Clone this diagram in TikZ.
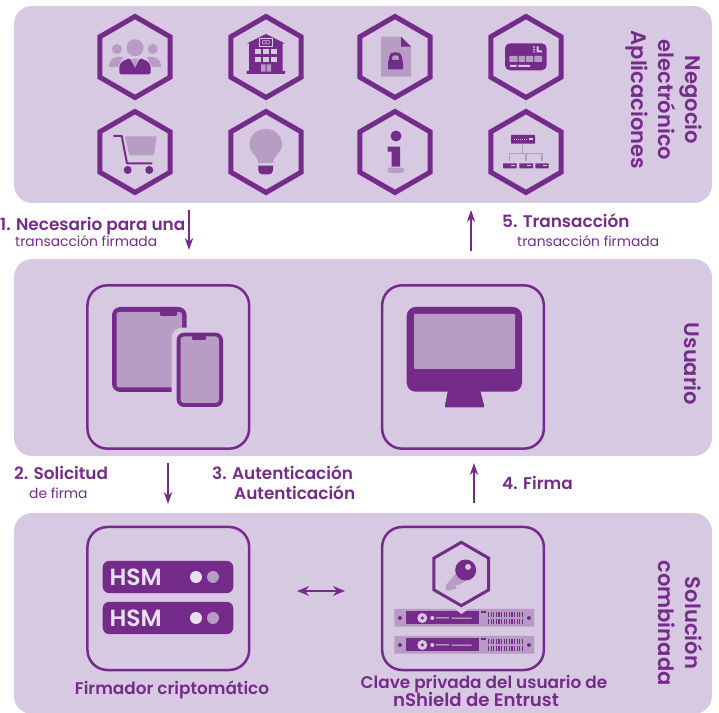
\documentclass[tikz,border=0pt]{standalone}
\usepackage{fontspec}
\setmainfont{Poppins}[BoldFont={Poppins SemiBold}]
\usetikzlibrary{shapes.geometric, arrows, arrows.meta}
\definecolor{morado}{HTML}{752B8A}
\definecolor{lila}{HTML}{D7C9E1}
\definecolor{malva}{HTML}{B79CC4}
\definecolor{claro}{HTML}{E8E0EE}
\tikzstyle{arrow} = [line width=.6mm,->,>={Stealth[length=.36cm,width=.25cm]},draw=morado]
\tikzstyle{doubleArrow} = [line width=.5mm,<->,>={Stealth[length=.36cm,width=.29cm]},draw=morado]
\tikzstyle{panel} = [rectangle, rounded corners=.55cm, minimum width=20.94cm, minimum height=5.91cm, fill=lila]
\tikzstyle{hexa} = [regular polygon, regular polygon sides=6, shape border rotate=30, minimum size=2.43cm, inner sep=0pt, line width=1.5mm, draw=morado]
\tikzstyle{roundRec} = [rectangle, rounded corners=.6cm, minimum width=4.85cm, line width=.75mm, draw=morado]
\tikzstyle{hsmBar} = [rectangle, rounded corners=.2cm, minimum width=3.92cm, minimum height=.97cm, fill=morado, text=claro, font=\bfseries\fontsize{20}{20}\selectfont, text width=3.5cm, align=left]
\tikzstyle{stepTitle} = [anchor=base west, inner sep=0pt, text=morado, font=\bfseries\fontsize{14.4}{17}\selectfont]
\tikzstyle{stepSub} = [anchor=base west, inner sep=0pt, text=morado, font=\fontsize{11.8}{14}\selectfont]
\tikzstyle{sideLabel} = [rotate=-90, align=center, text=morado, inner sep=0pt, font=\bfseries\fontsize{18}{23}\selectfont]

\begin{document}
\begin{tikzpicture}[x=.03cm, y=-.03cm, node distance=7.59cm]
	\clip (0,0) rectangle (719,713);
	% paneles
	\node (negocio) [panel] at (363,104.5) {};
	\node (usuario) [panel, below of=negocio] {};
	\node (combinada) [panel, below of=usuario, yshift=-.09cm, minimum height=6.03cm] {};
	\node (negocioTxt) [sideLabel] at (664,100) {Negocio\\electrónico\\Aplicaciones};
	\node (usuarioTxt) [sideLabel] at (693,364) {Usuario};
	\node (combinadaTxt) [sideLabel] at (681,623) {Solución\\combinada};
	% hexagonos
	\node (hexPersonas) [hexa] at (135,57) {};
	\node (hexBanco) [hexa] at (266,57) {};
	\node (hexDoc) [hexa] at (395,57) {};
	\node (hexTarjeta) [hexa] at (526,57) {};
	\node (hexCarro) [hexa] at (135,152) {};
	\node (hexBombilla) [hexa] at (266,152) {};
	\node (hexInfo) [hexa] at (395,152) {};
	\node (hexRed) [hexa] at (526,152) {};
	% personas
	\fill [malva] (117,49) circle (5) (152.7,49) circle (5) (135,47.7) circle (8.5);
	\fill [malva] (109,67) .. controls (109,58) and (115,56) .. (123,57) -- (118,67) -- cycle;
	\fill [malva] (161,67) .. controls (161,58) and (155,56) .. (147,57) -- (152,67) -- cycle;
	\fill [morado, rounded corners=1.5] (119.3,74.5) -- (119.3,68) .. controls (120,62) and (125,60) .. (130,58) -- (135,68) -- (140,58) .. controls (145,60) and (150,62) .. (150.7,68) -- (150.7,74.5) -- cycle;
	\fill [malva] (132,59) -- (138,59) -- (135,68) -- cycle;
	% banco
	\fill [morado] (246.7,43.5) -- (266,34) -- (285,43.5) -- (282.7,43.5) -- (282.7,71) -- (285,71) -- (285,74) -- (246.7,74) -- (246.7,71) -- (249,71) -- (249,43.5) -- cycle;
	\draw [lila, line width=.2mm] (259.5,38.5) rectangle (272.5,46);
	\draw [lila, line width=.15mm] (264.3,42.2) circle (2) (267.7,42.2) circle (2);
	\foreach \wx in {255,263,271} \foreach \wy in {48.7,56.7} \fill [lila] (\wx,\wy) rectangle +(6,5.6);
	\fill [malva] (261,64.3) rectangle (265.5,71.7) (266.5,64.3) rectangle (271,71.7);
	% documento
	\fill [malva, rounded corners=.8] (381,36.7) -- (401,36.7) -- (411,46.7) -- (411,76.7) -- (381,76.7) -- cycle;
	\fill [morado] (401,36.7) -- (411,46.7) -- (401,46.7) -- cycle;
	\draw [morado, line width=.9mm] (390.5,61) -- (390.5,57) .. controls (390.5,52.6) and (400.5,52.6) .. (400.5,57) -- (400.5,61);
	\fill [morado, rounded corners=1] (388,60) rectangle (403,69.5);
	% tarjeta
	\fill [morado, rounded corners=1.5mm] (505,43.3) rectangle (546.7,70.3);
	\fill [malva, rounded corners=.5] (509.3,56) rectangle (517.7,62) (518.7,56) rectangle (525,62) (526,56) rectangle (533.3,62) (534.3,56) rectangle (542,62);
	\fill [lila] (510,65) rectangle (516.5,67) (518.3,65) rectangle (530,67);
	\fill [lila] (536.7,46.5) rectangle (538.7,52.5) (538.7,50.5) rectangle (542,52.5);
	\fill [lila] (533,46.5) rectangle (535,47.7) (533,49) rectangle (535,50.2) (533,51.3) rectangle (535,52.5);
	% carrito
	\fill [malva, rounded corners=.5] (125,136.3) -- (156.7,136.3) -- (154,155.3) -- (129.3,155.3) -- cycle;
	\draw [morado, line width=.6mm, line cap=round, line join=round] (114,136) -- (121.7,136) -- (127,163.3) -- (151.7,163.3);
	\fill [morado] (127.7,170) circle (4) (149.3,170) circle (4);
	% bombilla
	\fill [malva] (258.5,163) .. controls (257,154) and (249.5,153) .. (249.5,145) .. controls (249.5,135) and (257,129) .. (265.7,129) .. controls (274.5,129) and (282,135) .. (282,145) .. controls (282,153) and (274.5,154) .. (273,163) -- cycle;
	\fill [morado] (258.3,165.7) -- (273,165.7) -- (273,170) .. controls (273,173) and (271,174.3) .. (269,174.3) -- (262.5,174.3) .. controls (260,174.3) and (258.3,173) .. (258.3,170) -- cycle;
	% info
	\fill [morado] (396,136) circle (5.5);
	\fill [morado] (387.7,146.7) -- (400,146.7) -- (400,166.7) -- (391.7,166.7) -- (391.7,151.7) -- (387.7,151.7) -- cycle;
	\fill [malva, rounded corners=1.5] (387.7,167.7) rectangle (404,173);
	% red
	\draw [malva, line width=.45mm] (522.7,143.7) -- (522.7,153.3) (526,153.3) -- (526,161) (509.3,161) -- (509.3,153.3) -- (542,153.3) -- (542,161);
	\fill [morado, rounded corners=.5] (511,135) rectangle (535,143.7);
	\fill [morado, rounded corners=.3] (503,163.3) rectangle (516.7,168.3) (519.3,163.3) rectangle (533,168.3) (535.3,163.3) rectangle (548.7,168.3);
	\foreach \dx in {513.5,515.5,517.5,519.5,521.5,523.5,525.5} \fill [lila] (\dx,139) rectangle +(1,1);
	\fill [lila] (529,138.5) rectangle (533,140.5);
	\foreach \dx in {511,527,543} \fill [lila] (\dx,165) rectangle +(3.5,1.5);
	% cajas del usuario
	\node (boxMovil) [roundRec, minimum height=4.9cm] at (168.3,367) {};
	\node (boxPantalla) [roundRec, minimum height=4.9cm] at (463,367) {};
	% tablet y movil
	\fill [morado, rounded corners=.25cm] (112,307) rectangle (186.7,392);
	\fill [malva, rounded corners=.08cm] (116.5,312) rectangle (182,387.5);
	\fill [morado, rounded corners=.03cm] (160,311) rectangle (177,316);
	\fill [lila, rounded corners=.3cm] (171.7,327.7) rectangle (228,412);
	\fill [morado, rounded corners=.22cm] (176.7,332.7) rectangle (223,407);
	\fill [malva, rounded corners=.1cm] (180.5,336.5) rectangle (219,403);
	\fill [morado, rounded corners=.03cm] (192,336) rectangle (206,340);
	% monitor
	\fill [morado] (448,390) -- (480,390) -- (484,405) .. controls (484.5,407) and (484,407.5) .. (482.5,407.5) -- (446.5,407.5) .. controls (445,407.5) and (444.5,407) .. (445,405) -- cycle;
	\fill [morado, rounded corners=.27cm] (406.7,307) rectangle (522,391.7);
	\fill [malva, rounded corners=.03cm] (414,314) rectangle (515,369);
	% cajas de la solucion
	\node (boxHsm) [roundRec, minimum height=4.29cm] at (168.3,598.5) {};
	\node (boxClave) [roundRec, minimum height=4.29cm] at (463,598.5) {};
	% hsm
	\node (hsmA) [hsmBar] at (168,577) {HSM};
	\node (hsmB) [hsmBar] at (168,618) {HSM};
	\fill [claro] (196,577) circle (6) (196,618) circle (6);
	\fill [malva] (213,577) circle (6) (213,618) circle (6);
	% llave y servidores
	\node (hexLlave) [regular polygon, regular polygon sides=6, shape border rotate=30, minimum size=1.9cm, inner sep=0pt, line width=.9mm, draw=morado] at (461.3,574) {};
	\fill [malva] (446,585) -- (458,571) -- (470,578) -- (459,585) -- (456,585) -- (456,589) -- (452,589) -- (452,590.5) -- (446,590.5) -- cycle;
	\fill [morado] (465.7,570) circle (10.5);
	\fill [lila] (468,567) circle (3);
	\foreach \sy in {0,27} {
		\fill [malva, rounded corners=.3] (394.3,609+\sy) rectangle (534.3,626.7+\sy);
		\fill [morado] (405.7,611+\sy) rectangle (479,624+\sy);
		\fill [morado] (400,618+\sy) circle (2) (529,618+\sy) circle (2);
		\fill [lila] (422.3,618+\sy) circle (5);
		\fill [morado] (422.3,618+\sy) circle (1.8);
		\fill [lila] (432.3,618+\sy) circle (2);
		\fill [lila] (435.5,617.5+\sy) rectangle (449,618.5+\sy) (451.7,617.6+\sy) rectangle (471.7,618.6+\sy);
		\fill [morado] (481,611.5+\sy) rectangle (486,613+\sy);
		\foreach \tx in {488,490.6,...,524} {
			\fill [morado] (\tx,611.7+\sy) rectangle +(1.2,5);
			\fill [morado] (\tx,619+\sy) rectangle +(1.2,5);
		}
	}
	\fill [lila] (455,609) -- (468,609) -- (461.5,614) -- cycle;
	% textos
	\node (paso1) [stepTitle] at (0,231) {1. Necesario para una};
	\node (paso1Sub) [stepSub] at (15,246.5) {transacción firmada};
	\node (paso5) [stepTitle] at (502,228) {5. Transacción};
	\node (paso5Sub) [stepSub] at (517,246.5) {transacción firmada};
	\node (paso2) [stepTitle] at (14,480) {2. Solicitud};
	\node (paso2Sub) [stepSub] at (29,499) {de firma};
	\node (paso3) [stepTitle] at (212,480) {3. Autenticación};
	\node (paso3Sub) [stepTitle] at (234,500) {Autenticación};
	\node (paso4) [stepTitle] at (502,490) {4. Firma};
	\node (firmador) [stepTitle, anchor=base] at (172,694) {Firmador criptomático};
	\node (clave) [stepTitle, anchor=base] at (484,688.5) {Clave privada del usuario de};
	\node (nshield) [stepTitle, anchor=base, font=\bfseries\fontsize{15.5}{17}\selectfont] at (476,707) {nShield de Entrust};
	% flechas
	\coordinate (a1) at (189,210); \coordinate (b1) at (189,250);
	\coordinate (a5) at (471,251); \coordinate (b5) at (471,210);
	\coordinate (a2) at (168,463); \coordinate (b2) at (168,504);
	\coordinate (a4) at (474,503); \coordinate (b4) at (474,463);
	\coordinate (hsmEnd) at (297,591); \coordinate (claveEnd) at (345,591);
	\draw [arrow] (a1) -- (b1);
	\draw [arrow] (a5) -- (b5);
	\draw [arrow] (a2) -- (b2);
	\draw [arrow] (a4) -- (b4);
	\draw [doubleArrow] (hsmEnd) -- (claveEnd);
\end{tikzpicture}
\end{document}
